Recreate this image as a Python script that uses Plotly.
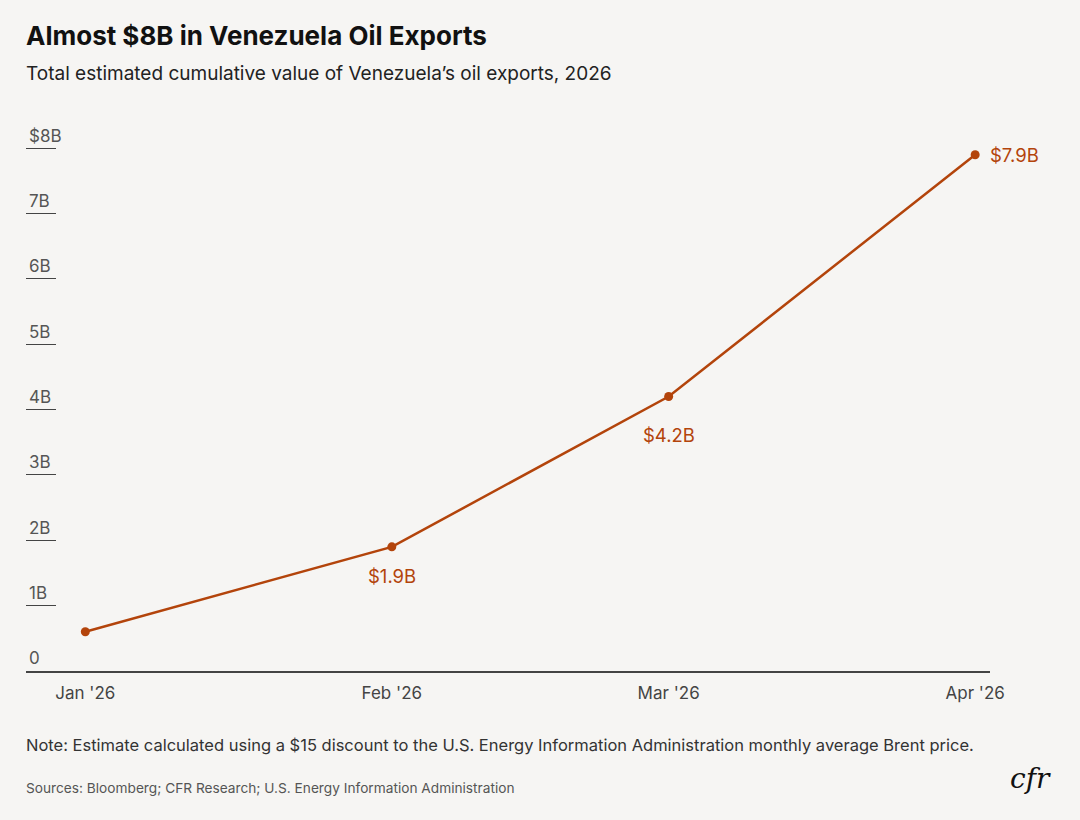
import plotly.graph_objects as go

months = ["2026-01-01", "2026-02-01", "2026-03-01", "2026-04-01"]
month_labels = ["Jan '26", "Feb '26", "Mar '26", "Apr '26"]
values = [0.6, 1.9, 4.2, 7.9]
point_labels = ["", "$1.9B", "$4.2B", "$7.9B"]
y_ticks = [0, 1, 2, 3, 4, 5, 6, 7, 8]
y_tick_labels = ["0", "1B", "2B", "3B", "4B", "5B", "6B", "7B", "$8B"]

LINE = "#b3440b"
BG = "#f6f5f3"
FONT = "Inter, Roboto, sans-serif"

fig = go.Figure()
fig.add_trace(go.Scatter(
    x=months, y=values, mode="lines+markers",
    line=dict(color=LINE, width=2.5),
    marker=dict(color=LINE, size=9),
    cliponaxis=False, hoverinfo="skip", showlegend=False,
))

# label placement (style only): below the point, last one to the right
label_style = {1: dict(xshift=0, yshift=-29), 2: dict(xshift=0, yshift=-38), 3: dict(xshift=13, yshift=0)}
for i, (m, v, t) in enumerate(zip(months, values, point_labels)):
    if not t:
        continue
    last = i == len(months) - 1
    fig.add_annotation(
        x=m, y=v, text=t, showarrow=False,
        xanchor="left" if last else "center", yanchor="middle",
        font=dict(color=LINE, size=18.5, family=FONT),
        **label_style[i],
    )

fig.update_layout(
    width=1080, height=820,
    paper_bgcolor=BG, plot_bgcolor=BG,
    margin=dict(l=26, r=90, t=109, b=149),
    font=dict(family=FONT, color="#444444"),
    xaxis=dict(
        type="date", range=["2025-12-26", "2026-04-02 12:00"],
        tickvals=months, ticktext=month_labels,
        showgrid=False, zeroline=False,
        showline=True, linecolor="#444444", linewidth=1.5,
        ticks="", tickfont=dict(size=17, color="#444444"),
        ticklabelstandoff=6,
        fixedrange=True,
    ),
    yaxis=dict(
        range=[0, 8.6], tickvals=y_ticks, ticktext=y_tick_labels,
        showgrid=False, zeroline=False, showline=False,
        ticks="inside", ticklen=30, tickwidth=1.2, tickcolor="#444444",
        ticklabelposition="inside top",
        tickfont=dict(size=17, color="#555555"),
        fixedrange=True,
    ),
)

fig.add_annotation(text="<b>Almost $8B in Venezuela Oil Exports</b>", xref="paper", yref="paper",
                   x=0, y=1, xanchor="left", yanchor="middle", xshift=-2, yshift=109 - 35,
                   showarrow=False, font=dict(size=26, color="#111111", family=FONT))
fig.add_annotation(text="Total estimated cumulative value of Venezuela’s oil exports, 2026",
                   xref="paper", yref="paper", x=0, y=1, xanchor="left", yanchor="middle",
                   xshift=-2, yshift=109 - 73, showarrow=False, font=dict(size=19, color="#222222", family=FONT))
fig.add_annotation(text="Note: Estimate calculated using a $15 discount to the U.S. Energy Information Administration monthly average Brent price.",
                   xref="paper", yref="paper", x=0, y=0, xanchor="left", yanchor="middle",
                   xshift=-2, yshift=-(745 - 671), showarrow=False, font=dict(size=16.5, color="#333333", family=FONT))
fig.add_annotation(text="Sources: Bloomberg; CFR Research; U.S. Energy Information Administration",
                   xref="paper", yref="paper", x=0, y=0, xanchor="left", yanchor="middle",
                   xshift=-2, yshift=-(788 - 671), showarrow=False, font=dict(size=13.7, color="#555555", family=FONT))
fig.add_annotation(text="<i>cfr</i>", xref="paper", yref="paper", x=1, y=0, xanchor="center", yanchor="middle",
                   xshift=1030 - 990, yshift=-(778 - 671), showarrow=False,
                   font=dict(size=28, color="#111111", family="DejaVu Serif, Liberation Serif, serif"))

fig.write_html("out.html", config={"displayModeBar": False},
               post_script="document.body.style.margin='0';document.body.style.background='#f6f5f3';")
